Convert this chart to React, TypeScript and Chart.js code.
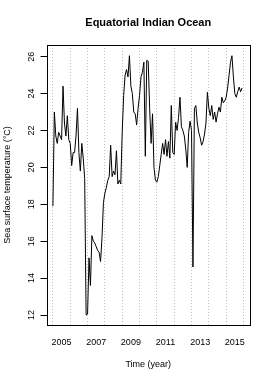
import React, { useEffect, useRef } from 'react';
import { Chart, registerables } from 'chart.js';

Chart.register(...registerables);

const startYear = 2005;

// Monthly sea surface temperature (°C), Jan..Dec of each year
const sst2005 = [17.9, 23.0, 21.7, 21.3, 21.9, 21.7, 21.5, 24.4, 22.4, 21.7, 22.8, 21.5];
const sst2006 = [21.3, 20.1, 20.8, 20.8, 21.7, 23.2, 20.8, 19.8, 21.3, 20.5, 19.4, 12.0];
const sst2007 = [12.05, 15.1, 13.6, 16.3, 16.0, 15.9, 15.7, 15.5, 15.4, 14.9, 16.2, 18.1];
const sst2008 = [18.6, 18.9, 19.3, 19.5, 21.2, 19.5, 19.8, 19.6, 20.9, 19.1, 19.3, 19.1];
const sst2009 = [21.9, 23.9, 25.0, 25.3, 24.9, 26.05, 24.4, 24.0, 23.0, 22.9, 22.3, 23.2];
const sst2010 = [23.9, 24.9, 25.15, 25.7, 20.6, 25.8, 25.75, 23.2, 21.3, 22.9, 20.0, 19.3];
const sst2011 = [19.2, 19.5, 20.1, 20.7, 21.3, 20.7, 21.5, 20.6, 21.4, 20.5, 23.35, 20.8];
const sst2012 = [20.7, 22.45, 22.0, 22.7, 23.8, 22.2, 22.0, 21.7, 21.0, 20.0, 21.9, 22.5];
const sst2013 = [22.0, 14.6, 23.2, 23.35, 22.4, 21.9, 21.6, 21.2, 21.4, 21.8, 22.4, 24.07];
const sst2014 = [23.2, 22.8, 23.35, 22.6, 23.0, 22.45, 22.9, 23.26, 23.0, 23.8, 23.5, 23.6];
const sst2015 = [23.8, 24.3, 25.0, 25.7, 26.05, 24.9, 24.0, 23.8, 24.1, 24.35, 24.1, 24.3];

const labelYears = [2005, 2007, 2009, 2011, 2013, 2015];
const gridYears = [2005, 2006, 2007, 2008, 2009, 2010, 2011, 2012, 2013, 2014, 2015, 2016];
const yTicks = [12, 14, 16, 18, 20, 22, 24, 26];

const FONT = '"Liberation Sans", Arial, Helvetica, sans-serif';

const sst = [
  ...sst2005, ...sst2006, ...sst2007, ...sst2008, ...sst2009, ...sst2010,
  ...sst2011, ...sst2012, ...sst2013, ...sst2014, ...sst2015,
];

const framePlugin = {
  id: 'frameAndYLabels',
  afterDraw(chart: any) {
    const { ctx, chartArea } = chart;
    const { left, top, right, bottom } = chartArea;
    ctx.save();
    ctx.strokeStyle = '#000';
    ctx.lineWidth = 1;
    const l = Math.round(left) + 0.5;
    const t = Math.round(top) + 0.5;
    ctx.strokeRect(l, t, Math.round(right) - Math.round(left), Math.round(bottom) - Math.round(top));
    const ys = chart.scales.y;
    ctx.fillStyle = '#000';
    ctx.font = `9px ${FONT}`;
    ctx.textAlign = 'center';
    ctx.textBaseline = 'middle';
    ys.ticks.forEach((tk: any) => {
      const py = ys.getPixelForValue(tk.value);
      ctx.save();
      ctx.translate(ys.right - 14.8, py);
      ctx.rotate(-Math.PI / 2);
      ctx.fillText(String(tk.value), 0, 0);
      ctx.restore();
    });
    ctx.restore();
  },
};

export default function App() {
  const ref = useRef<HTMLCanvasElement | null>(null);

  useEffect(() => {
    if (!ref.current) return;
    const data = sst.map((v, i) => ({ x: startYear + i / 12, y: v }));
    const chart = new Chart(ref.current, {
      type: 'line',
      data: {
        datasets: [
          {
            data,
            borderColor: '#000',
            borderWidth: 1,
            pointRadius: 0,
            tension: 0,
            fill: false,
          },
        ],
      },
      options: {
        responsive: false,
        animation: false,
        devicePixelRatio: 1,
        layout: { padding: { left: 0, right: 24, top: 0, bottom: 0 } },
        plugins: {
          legend: { display: false },
          tooltip: { enabled: false },
          title: {
            display: true,
            text: 'Equatorial Indian Ocean',
            fullSize: false,
            color: '#000',
            font: { family: FONT, size: 11, weight: 'bold' },
            padding: { top: 16.6, bottom: 15.2 },
          },
        },
        scales: {
          x: {
            type: 'linear',
            min: 2004.63,
            max: 2016.375,
            afterBuildTicks: (s: any) => {
              s.ticks = [
                ...gridYears.map((v) => ({ value: v })),
                ...labelYears.map((v) => ({ value: v + 0.5 })),
              ].sort((a, b) => a.value - b.value);
            },
            afterFit: (s: any) => {
              s.height = 57;
            },
            grid: {
              color: (c: any) =>
                c.tick && Number.isInteger(c.tick.value) ? '#bebebe' : 'rgba(0,0,0,0)',
              drawTicks: false,
              lineWidth: 1,
            },
            border: { display: false, dash: [1, 2] },
            ticks: {
              autoSkip: false,
              maxRotation: 0,
              minRotation: 0,
              padding: 12.3,
              color: '#000',
              font: { family: FONT, size: 9 },
              callback: (v: any) => (v % 1 === 0.5 ? String(Math.floor(v)) : ''),
            },
            title: {
              display: true,
              text: 'Time (year)',
              color: '#000',
              font: { family: FONT, size: 9 },
              padding: { top: 0, bottom: 11.6 },
            },
          },
          y: {
            type: 'linear',
            min: 11.46,
            max: 26.63,
            afterBuildTicks: (s: any) => {
              s.ticks = yTicks.map((v) => ({ value: v }));
            },
            afterFit: (s: any) => {
              s.width = 46.5;
            },
            grid: {
              drawOnChartArea: false,
              drawTicks: true,
              tickLength: 6,
              color: '#000',
              tickColor: '#000',
            },
            border: { display: false },
            ticks: { display: false },
            title: {
              display: true,
              text: 'Sea surface temperature (°C)',
              color: '#000',
              font: { family: FONT, size: 9 },
              padding: { top: 2.1, bottom: 0 },
            },
          },
        },
      },
      plugins: [framePlugin],
    });
    return () => chart.destroy();
  }, []);

  return (
    <div style={{ position: 'absolute', left: 0, top: 0, width: 274, height: 382 }}>
      <canvas ref={ref} width={274} height={382} style={{ display: 'block' }} />
    </div>
  );
}
